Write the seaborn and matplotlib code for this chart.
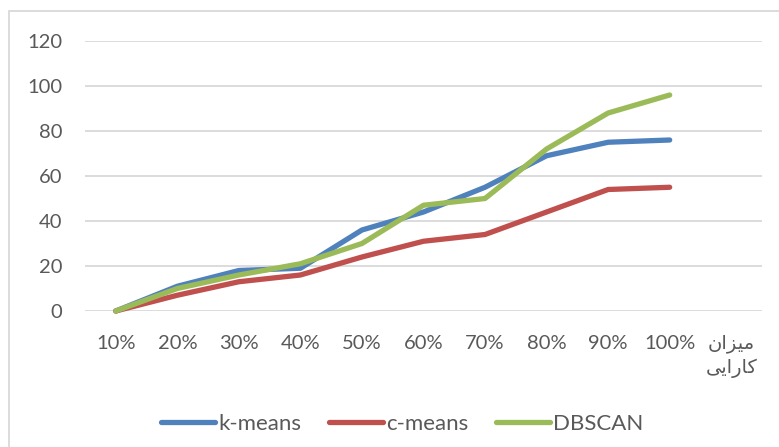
import matplotlib
matplotlib.use("Agg")
import matplotlib.pyplot as plt
from matplotlib.patches import Rectangle
import pandas as pd
import seaborn as sns

# Categories on the x axis; the last one is the axis title slot
categories = ["10%", "20%", "30%", "40%", "50%", "60%", "70%", "80%", "90%", "100%"]
axis_title = ["میزان", "کارایی"]

kmeans = [0, 11, 18, 19, 36, 44, 55, 69, 75, 76]
cmeans = [0, 7, 13, 16, 24, 31, 34, 44, 54, 55]
dbscan = [0, 10, 16, 21, 30, 47, 50, 72, 88, 96]

series_names = ["k-means", "c-means", "DBSCAN"]
colors = ["#4F81BD", "#C0504D", "#9BBB59"]
y_ticks = [0, 20, 40, 60, 80, 100, 120]


# Minimal Persian shaping: matplotlib does no contextual joining or RTL,
# so map letters to presentation forms and reverse to visual order.
FORMS = {
    "م": ("\uFEE1", "\uFEE2", "\uFEE3", "\uFEE4"),
    "ی": ("\uFBFC", "\uFBFD", "\uFBFE", "\uFBFF"),
    "ز": ("\uFEAF", "\uFEB0", None, None),
    "ا": ("\uFE8D", "\uFE8E", None, None),
    "ن": ("\uFEE5", "\uFEE6", "\uFEE7", "\uFEE8"),
    "ک": ("\uFB8E", "\uFB8F", "\uFB90", "\uFB91"),
    "ر": ("\uFEAD", "\uFEAE", None, None),
}


def joins_left(ch):
    return ch in FORMS and FORMS[ch][2] is not None


def shape(word):
    out = []
    for i, ch in enumerate(word):
        if ch not in FORMS:
            out.append(ch)
            continue
        prev_join = i > 0 and joins_left(word[i - 1])
        next_join = joins_left(ch) and i + 1 < len(word) and word[i + 1] in FORMS
        iso, fin, ini, med = FORMS[ch]
        if prev_join and next_join:
            out.append(med)
        elif prev_join:
            out.append(fin)
        elif next_join:
            out.append(ini)
        else:
            out.append(iso)
    return "".join(reversed(out))


df = pd.DataFrame({
    "pos": list(range(len(categories))) * 3,
    "value": kmeans + cmeans + dbscan,
    "series": sum([[n] * len(categories) for n in series_names], []),
})

sns.set_theme(style="white")
plt.rcParams["font.family"] = ["Lato", "DejaVu Sans"]
text_color = "#595959"
grid_color = "#D9D9D9"

fig = plt.figure(figsize=(7.79, 4.47), dpi=100)
ax = fig.add_axes([85 / 779, 1 - 311 / 447, (762 - 85) / 779, (311 - 41) / 447])

sns.lineplot(data=df, x="pos", y="value", hue="series", hue_order=series_names,
             palette=colors, linewidth=3.8, ax=ax, legend=False, sort=False)
for line in ax.lines:
    line.set_clip_on(False)
    line.set_solid_capstyle("round")
    line.set_solid_joinstyle("round")

ax.set_xlim(-0.5, len(categories) + 0.5)
ax.set_ylim(0, 120)
ax.set_yticks(y_ticks)
ax.set_yticklabels([str(v) for v in y_ticks], fontsize=14.5, color=text_color)
ax.set_xticks(range(len(categories) + 1))
ax.set_xticklabels(categories + [""], fontsize=14.5, color=text_color)
ax.tick_params(axis="y", length=0, pad=16.5)
ax.tick_params(axis="x", length=0, pad=17)
ax.set_xlabel("")
ax.set_ylabel("")
for s in ax.spines.values():
    s.set_visible(False)
ax.yaxis.grid(True, color=grid_color, linewidth=1.3)
ax.xaxis.grid(False)
ax.set_axisbelow(True)

# Axis title placed in the last category slot, two lines
ax.annotate(shape(axis_title[0]), xy=(len(categories), 0), xycoords=("data", "axes fraction"),
            xytext=(0, -23), textcoords="offset pixels", ha="center", va="top",
            fontsize=14, color=text_color, family=["DejaVu Sans"])
ax.annotate(shape(axis_title[1]), xy=(len(categories), 0), xycoords=("data", "axes fraction"),
            xytext=(0, -48), textcoords="offset pixels", ha="center", va="top",
            fontsize=14, color=text_color, family=["DejaVu Sans"])

handles = [plt.Line2D([], [], color=c, linewidth=3.8, solid_capstyle="round") for c in colors]
fig.legend(handles, series_names, loc="center", bbox_to_anchor=(402 / 779, 1 - 424 / 447),
           ncol=3, frameon=False, fontsize=16, labelcolor=text_color,
           handlelength=2.45, handletextpad=0.12, columnspacing=1.25)

# Chart area border
fig.patches.append(Rectangle((9 / 779, -0.1), 1.2, (447 - 11) / 447 + 0.1,
                             transform=fig.transFigure, fill=False,
                             edgecolor=grid_color, linewidth=1.3))

fig.savefig("out.png", dpi=100)
